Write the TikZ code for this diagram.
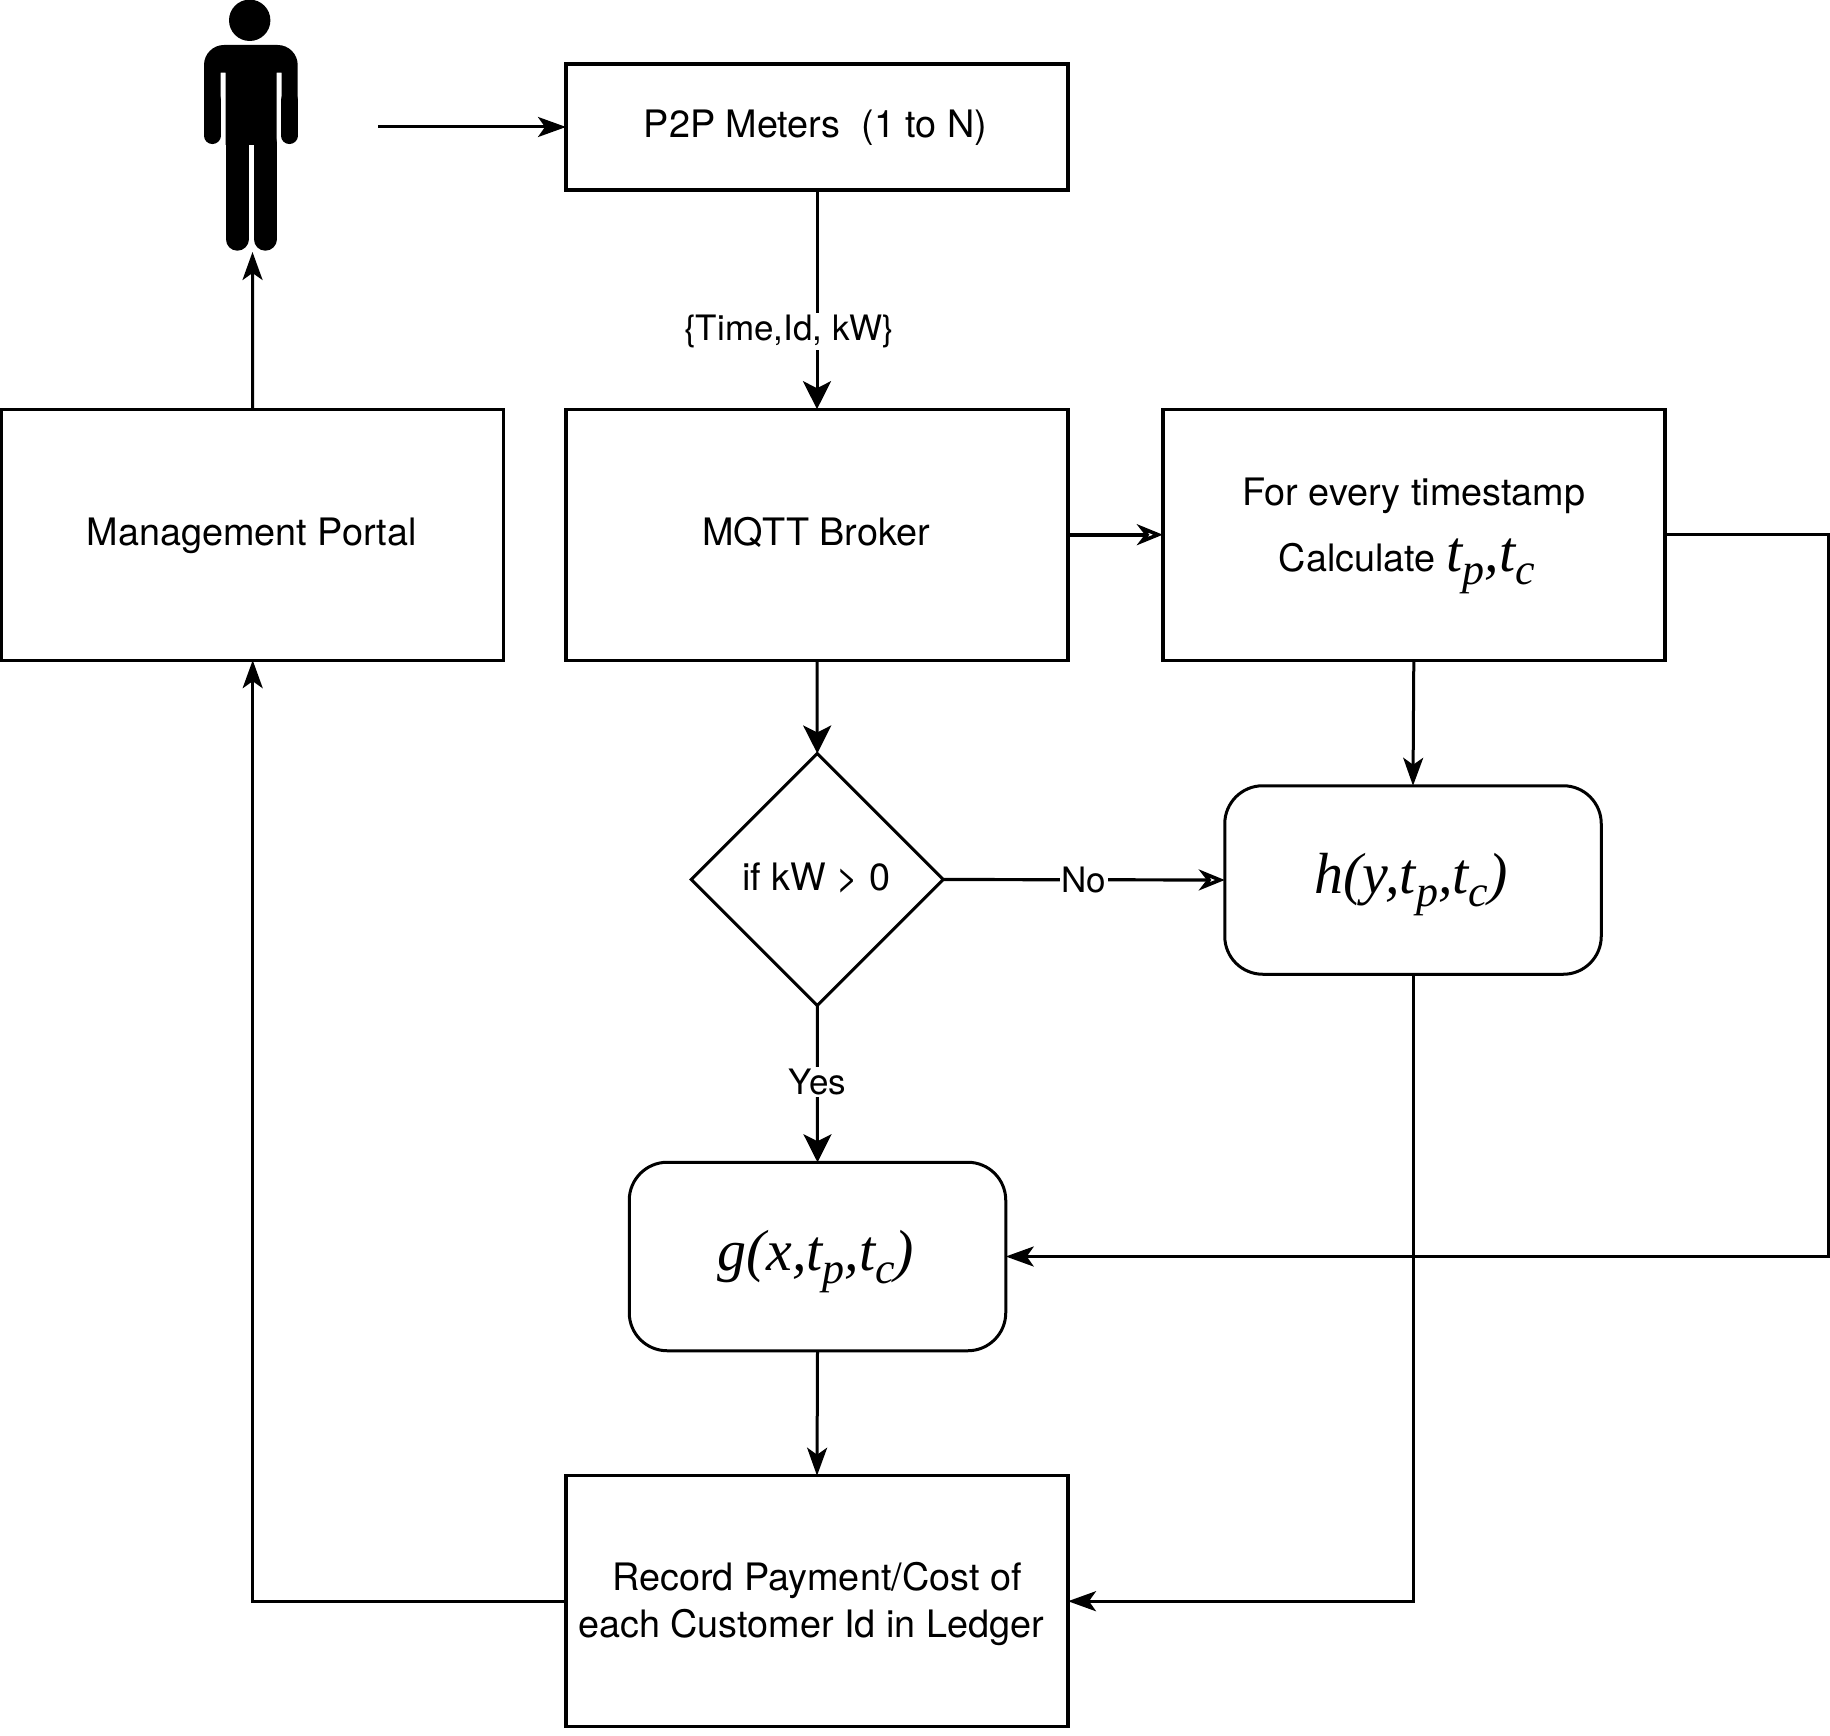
\documentclass[tikz,border=0pt]{standalone}
\usepackage{fontspec}
\usetikzlibrary{arrows.meta,shapes.geometric}
\setmainfont{TeX Gyre Heros}
\newfontfamily\timesfam{Liberation Serif}
\newcommand{\ptext}[3]{\kern#1pt\raisebox{#2pt}[0pt][0pt]{\makebox[0pt][c]{#3}}\kern-#1pt}
\newcommand{\subit}[1]{\raisebox{-13pt}{\fontsize{44}{44}\selectfont #1}}
\newcommand{\bigit}[1]{{\timesfam\itshape\fontsize{58}{58}\selectfont #1}}
\tikzset{
  x=1pt,y=-1pt,
  every node/.style={font=\fontsize{37.8}{44}\selectfont,outer sep=0pt,inner sep=0pt},
  boxnode/.style={draw,line width=3.4pt,minimum width=502pt,minimum height=251pt,text height=0pt,text depth=0pt},
  roundnode/.style={draw,line width=3pt,rounded corners=38pt,minimum width=376.5pt,minimum height=188.5pt,text height=0pt,text depth=0pt},
  decisionnode/.style={draw,line width=3pt,diamond,aspect=1,minimum width=252pt,minimum height=252pt,text height=0pt,text depth=0pt},
  conn/.style={line width=3pt,-{Stealth[length=28pt,width=20pt,inset=7pt]}},
  wideconn/.style={line width=3pt,-{Stealth[length=28pt,width=28pt,inset=7pt]}},
  sketchconn/.style={line width=4pt,-{Stealth[length=26pt,width=21pt,inset=8pt,open,fill=white,line width=3.6pt]}},
  edgelabel/.style={font=\fontsize{35}{40}\selectfont,fill=white,inner sep=2pt},
}
\begin{document}
\begin{tikzpicture}
\useasboundingbox (0,0) rectangle (1830,1736);
% person
\fill (249.7,20.3) circle[radius=20.7pt];
\fill (204,110) [rounded corners=20pt] -- (204,45) -- (297.7,45) [sharp corners] -- (297.7,110) -- (281.7,110) -- (281.7,72.7) -- (276.7,72.7) -- (276.7,145) -- (225.7,145) -- (225.7,72.7) -- (220.7,72.7) -- (220.7,110) -- cycle;
\draw[line width=16.7pt,line cap=round] (212.3,100) -- (212.3,135.7);
\draw[line width=16.7pt,line cap=round] (289.35,100) -- (289.35,135.7);
\draw[line width=23pt,line cap=round] (237.2,143) -- (237.2,239.2);
\draw[line width=23pt,line cap=round] (265.2,143) -- (265.2,239.2);
\coordinate (userout) at (378,127);
\coordinate (userin) at (252.5,252);
\coordinate (rail) at (1828,534.7);
% boxes
\node[boxnode,minimum height=126pt] (p2p) at (817,127) {\ptext{-1.5}{-10.7}{P2P Meters\ \ (1 to N)}};
\node[boxnode] (mgmt) at (252.7,534.7) {\ptext{-1}{-10.3}{Management Portal}};
\node[boxnode] (mqtt) at (817,534.7) {\ptext{-1}{-10.3}{MQTT Broker}};
\node[boxnode] (calc) at (1413.8,534.7) {\ptext{0}{29.7}{For every timestamp}\ptext{-7}{-36.3}{Calculate \bigit{t\subit{p},t\subit{c}}}};
\node[decisionnode] (dec) at (817.3,879.5) {\ptext{-1}{-11.2}{if kW > 0}};
\node[roundnode] (h) at (1413,880) {\ptext{-2}{-13.7}{\bigit{h(y,t\subit{p},t\subit{c})}}};
\node[roundnode] (g) at (817.5,1256.5) {\ptext{-1.5}{-14.2}{\bigit{g(x,t\subit{p},t\subit{c})}}};
\node[boxnode] (rec) at (817,1601.2) {\ptext{0}{10.5}{Record Payment/Cost of}\ptext{-6}{-36.5}{each Customer Id in Ledger}};
% connectors
\draw[conn] (userout) -- (p2p.west);
\draw[wideconn] (p2p.south) -- node[edgelabel,pos=.645,xshift=-28pt] (lbltime) {\{Time,Id, kW\}} (mqtt.north);
\draw[conn] (mgmt.north) -- (userin);
\draw[sketchconn] (mqtt.east) -- (calc.west);
\draw[wideconn] (mqtt.south) -- (dec.north);
\draw[conn] (calc.south) -- (h.north);
\draw[sketchconn,line width=3.2pt] (dec.east) -- node[edgelabel] (lblno) {No} (h.west);
\draw[wideconn] (dec.south) -- node[edgelabel,pos=.49] (lblyes) {Yes} (g.north);
\draw[conn] (calc.east) -- (rail) |- (g.east);
\draw[conn] (g.south) -- (rec.north);
\draw[conn] (h.south) |- (rec.east);
\draw[conn] (rec.west) -| (mgmt.south);
\end{tikzpicture}
\end{document}
